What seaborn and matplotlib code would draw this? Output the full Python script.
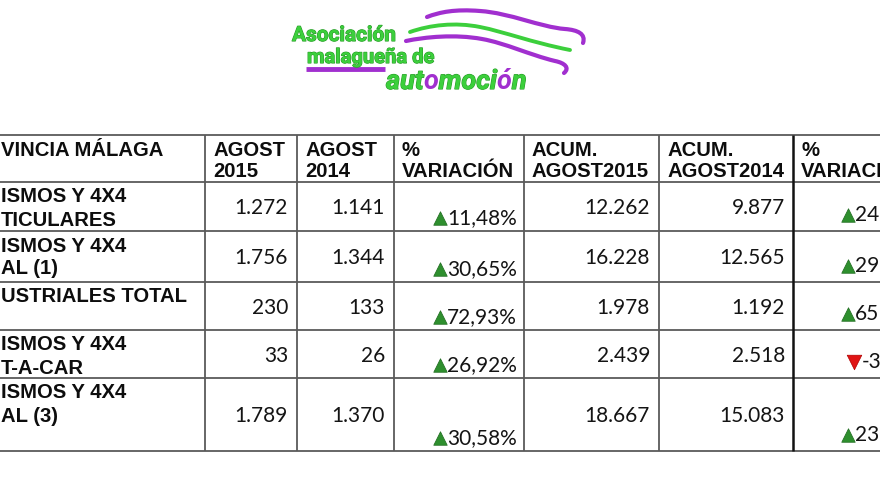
import numpy as np
import pandas as pd
import matplotlib
matplotlib.use("Agg")
import matplotlib.pyplot as plt
import matplotlib.patheffects as pe
from matplotlib.path import Path
from matplotlib.patches import PathPatch
import seaborn as sns

# table content (as visible in the cropped picture)
first_header = "VINCIA MÁLAGA"
header_cols = ["AGOST\n2015", "AGOST\n2014", "%\nVARIACIÓN",
               "ACUM.\nAGOST2015", "ACUM.\nAGOST2014", "%\nVARIACIÓN"]
row_labels = ["ISMOS Y 4X4\nTICULARES",
              "ISMOS Y 4X4\nAL (1)",
              "USTRIALES TOTAL",
              "ISMOS Y 4X4\nT-A-CAR",
              "ISMOS Y 4X4\nAL (3)"]
agost_2015 = ["1.272", "1.756", "230", "33", "1.789"]
agost_2014 = ["1.141", "1.344", "133", "26", "1.370"]
var_month = ["11,48%", "30,65%", "72,93%", "26,92%", "30,58%"]
acum_2015 = ["12.262", "16.228", "1.978", "2.439", "18.667"]
acum_2014 = ["9.877", "12.565", "1.192", "2.518", "15.083"]
var_acum = ["24", "29", "65", "-3", "23"]

# layout in pixels
col_edges = [205, 297, 394, 524, 659, 793]
row_edges = [135, 182, 231, 282, 330, 378, 451]

sns.set_theme(style="white")
plt.rcParams["font.family"] = ["Liberation Sans", "DejaVu Sans"]

fig = plt.figure(figsize=(8.8, 4.95), dpi=100)
ax = fig.add_axes([0, 0, 1, 1])

head_font = dict(family=["Liberation Sans", "DejaVu Sans"], weight="bold", fontsize=14.6, color="#0d0d0d")
num_font = dict(family=["Lato", "DejaVu Sans"], fontsize=15, color="#141414")

# grid lines
ax.hlines(row_edges, 0, 880, color="#5a5a5a", lw=1.3)
ax.vlines(col_edges[:-1], row_edges[0], row_edges[-1], color="#5a5a5a", lw=1.3)
ax.vlines(col_edges[-1], row_edges[0], row_edges[-1], color="#111111", lw=1.8)

# header row
ax.text(1, row_edges[0] + 21, first_header, va="baseline", ha="left", **head_font)
for edge, lab in zip(col_edges, header_cols):
    l1, l2 = lab.split("\n")
    ax.text(edge + 8, row_edges[0] + 21, l1, va="baseline", ha="left", **head_font)
    ax.text(edge + 8, row_edges[0] + 42, l2, va="baseline", ha="left", **head_font)

# body rows
ups, downs = [], []
for i, lab in enumerate(row_labels):
    top, bot = row_edges[i + 1], row_edges[i + 2]
    mid = (top + bot) / 2
    for k, line in enumerate(lab.split("\n")):
        ax.text(1, top + 20.5 + 23 * k, line, va="baseline", ha="left", **head_font)
    ax.text(col_edges[1] - 9, mid + 7.5, agost_2015[i], ha="right", va="baseline", **num_font)
    ax.text(col_edges[2] - 9, mid + 7.5, agost_2014[i], ha="right", va="baseline", **num_font)
    ax.text(col_edges[3] - 7, bot - 6.5, var_month[i], ha="right", va="baseline", **num_font)
    ax.text(col_edges[4] - 9, mid + 7.5, acum_2015[i], ha="right", va="baseline", **num_font)
    ax.text(col_edges[5] - 8, mid + 7.5, acum_2014[i], ha="right", va="baseline", **num_font)
    # month variation marker
    ups.append((440, bot - 6.5 - 7))
    # accumulated variation
    if var_acum[i].startswith("-"):
        downs.append((854, bot - 10 - 6))
        ax.text(862, bot - 10, var_acum[i], ha="left", va="baseline", **num_font)
    else:
        ups.append((848, bot - 10 - 6.5))
        ax.text(855, bot - 10, var_acum[i], ha="left", va="baseline", **num_font)

up_df = pd.DataFrame(ups, columns=["x", "y"])
down_df = pd.DataFrame(downs, columns=["x", "y"])
sns.scatterplot(data=up_df, x="x", y="y", marker="^", s=95, color="#2e8f2e",
                edgecolor="#1f6a1f", linewidth=0.5, ax=ax, legend=False)
sns.scatterplot(data=down_df, x="x", y="y", marker="v", s=110, color="#e01414",
                edgecolor="#b00000", linewidth=0.5, ax=ax, legend=False)

# logo swooshes
def swoosh(verts, color, lw):
    codes = [Path.MOVETO] + [Path.CURVE4] * (len(verts) - 1)
    ax.add_patch(PathPatch(Path(verts, codes), fill=False, edgecolor=color,
                           lw=lw, capstyle="round", joinstyle="round"))

purple = "#a12fcf"
green = "#3ccf3c"
swoosh([(427, 17), (440, 12), (455, 9), (480, 11), (510, 13), (540, 27), (565, 29),
        (578, 30), (586, 34), (583, 43)], purple, 3.0)
swoosh([(410, 32), (430, 25), (455, 22), (480, 27), (505, 32), (530, 42), (570, 50)], green, 2.8)
swoosh([(406, 41), (425, 37), (455, 34), (482, 39), (505, 43), (530, 55), (555, 61),
        (565, 63), (570, 68), (564, 73)], purple, 3.0)
ax.plot([306, 385], [69, 69], color=purple, lw=3.5, solid_capstyle="butt")

logo_font = dict(family=["Roboto", "DejaVu Sans"], weight="bold")
outline = [pe.withStroke(linewidth=0.8, foreground="#259a25")]
ax.text(292, 41, "Asociación", fontsize=15, color=green, va="baseline", ha="left",
        path_effects=outline, **logo_font)
ax.text(307, 63, "malagueña de", fontsize=14.5, color=green, va="baseline", ha="left",
        path_effects=outline, **logo_font)

ax.set_xlim(0, 880)
ax.set_ylim(495, 0)
ax.axis("off")

# multicoloured "automoción", pieces placed one after another
renderer = fig.canvas.get_renderer()
x = 386
for piece, col in [("aut", green), ("o", purple), ("moci", green), ("ó", purple), ("n", green)]:
    t = ax.text(x, 89, piece, fontsize=19.5, color=col, style="italic", va="baseline",
                ha="left", path_effects=outline if col == green else None, **logo_font)
    bb = t.get_window_extent(renderer=renderer)
    x += bb.width * 880 / fig.bbox.width

fig.savefig("out.png", dpi=100)
